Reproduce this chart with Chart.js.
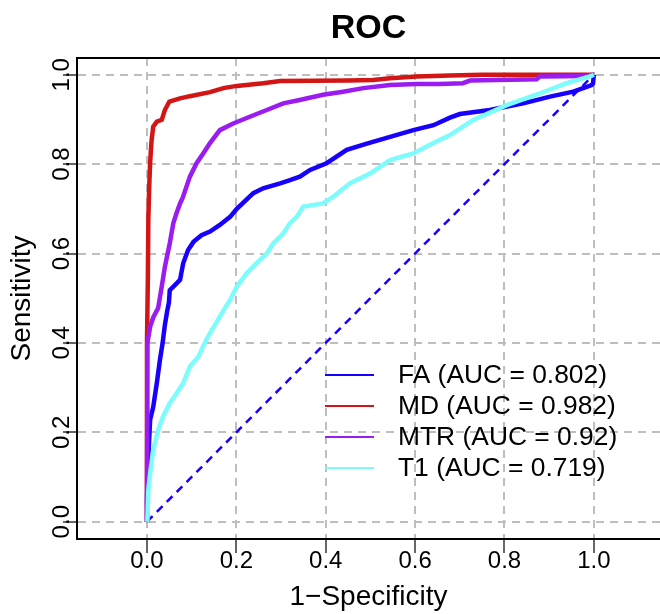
<!DOCTYPE html>
<html><head><meta charset="utf-8">
<script src="https://cdn.jsdelivr.net/npm/chart.js@4.4.0/dist/chart.umd.min.js"></script>
<style>html,body{margin:0;padding:0;background:#fff;} #wrap{width:660px;height:614px;}</style>
</head><body><div id="wrap"><canvas id="c" width="660" height="614"></canvas></div>
<script>
// ---- data ----
const categories = ['FA', 'MD', 'MTR', 'T1'];
const aucValues = ['0.802', '0.982', '0.92', '0.719'];

const faFpr = [0, 0, 0.003, 0.007, 0.014, 0.022, 0.029, 0.035, 0.040, 0.045, 0.049, 0.051, 0.063, 0.074, 0.081, 0.092, 0.104, 0.122, 0.141, 0.163, 0.186, 0.201, 0.238, 0.260, 0.298, 0.320, 0.342, 0.365, 0.402, 0.447, 0.492, 0.544, 0.596, 0.641, 0.678, 0.700, 0.767, 0.842, 0.902, 0.954, 0.984, 0.995, 0.998, 1];
const faTpr = [0, 0.049, 0.145, 0.228, 0.257, 0.310, 0.362, 0.400, 0.440, 0.470, 0.490, 0.518, 0.530, 0.541, 0.578, 0.608, 0.626, 0.641, 0.649, 0.664, 0.682, 0.700, 0.735, 0.746, 0.757, 0.764, 0.772, 0.787, 0.802, 0.832, 0.846, 0.861, 0.876, 0.887, 0.904, 0.912, 0.921, 0.936, 0.951, 0.962, 0.973, 0.977, 0.980, 1];

const mdFpr = [0, 0, 0.002, 0.003, 0.005, 0.007, 0.010, 0.014, 0.022, 0.033, 0.040, 0.050, 0.074, 0.096, 0.141, 0.171, 0.201, 0.260, 0.298, 0.450, 0.506, 0.544, 0.603, 0.678, 0.750, 1];
const mdTpr = [0, 0.400, 0.550, 0.675, 0.750, 0.803, 0.850, 0.884, 0.895, 0.899, 0.921, 0.940, 0.947, 0.952, 0.961, 0.970, 0.975, 0.981, 0.986, 0.987, 0.988, 0.992, 0.996, 0.998, 1.0, 1];

const mtrFpr = [0, 0, 0.001, 0.007, 0.014, 0.025, 0.028, 0.033, 0.040, 0.051, 0.059, 0.066, 0.074, 0.080, 0.096, 0.111, 0.126, 0.141, 0.163, 0.193, 0.230, 0.268, 0.305, 0.339, 0.394, 0.439, 0.484, 0.544, 0.603, 0.655, 0.707, 0.723, 0.872, 0.879, 0.984, 1];
const mtrTpr = [0, 0.060, 0.400, 0.436, 0.457, 0.478, 0.496, 0.526, 0.570, 0.623, 0.668, 0.690, 0.712, 0.725, 0.772, 0.802, 0.824, 0.847, 0.876, 0.891, 0.906, 0.921, 0.936, 0.943, 0.955, 0.962, 0.970, 0.977, 0.979, 0.979, 0.981, 0.987, 0.990, 0.996, 0.997, 1];

const t1Fpr = [0, 0.001, 0.003, 0.007, 0.014, 0.025, 0.036, 0.051, 0.066, 0.081, 0.096, 0.115, 0.134, 0.163, 0.186, 0.201, 0.223, 0.245, 0.268, 0.283, 0.305, 0.320, 0.335, 0.350, 0.394, 0.417, 0.454, 0.499, 0.544, 0.596, 0.641, 0.678, 0.730, 0.805, 0.879, 0.939, 0.991, 1];
const t1Tpr = [0, 0.004, 0.071, 0.108, 0.160, 0.205, 0.235, 0.265, 0.287, 0.310, 0.347, 0.369, 0.410, 0.459, 0.496, 0.526, 0.556, 0.578, 0.600, 0.623, 0.645, 0.668, 0.682, 0.705, 0.712, 0.727, 0.757, 0.779, 0.809, 0.824, 0.847, 0.865, 0.899, 0.932, 0.958, 0.981, 0.996, 1];

const diagX = [0, 1];
const diagY = [0, 1];

const xTickValues = [0, 0.2, 0.4, 0.6, 0.8, 1.0];
const xTickLabels = ['0.0', '0.2', '0.4', '0.6', '0.8', '1.0'];
const yTickValues = [0, 0.2, 0.4, 0.6, 0.8, 1.0];
const yTickLabels = ['0.0', '0.2', '0.4', '0.6', '0.8', '1.0'];

// ---- styles ----
const FONT = "'Liberation Sans', Arial, Helvetica, sans-serif";
const seriesColors = ['#1800FF', '#D41515', '#9A1CF0', '#7CFCFC'];
const XMIN = -0.1566, XMAX = 1.148, YMIN = -0.0387, YMAX = 1.0374;

const pts = (xs, ys) => xs.map((x, i) => ({ x: x, y: ys[i] }));
const fprs = [faFpr, mdFpr, mtrFpr, t1Fpr];
const tprs = [faTpr, mdTpr, mtrTpr, t1Tpr];
const orders = [4, 3, 2, 1];

const datasets = categories.map((c, i) => ({
  label: c + ' (AUC = ' + aucValues[i] + ')',
  data: pts(fprs[i], tprs[i]),
  borderColor: seriesColors[i],
  backgroundColor: seriesColors[i],
  borderWidth: 4.5,
  showLine: true,
  pointRadius: 0,
  tension: 0,
  order: orders[i]
}));
datasets.push({
  label: 'diag',
  data: pts(diagX, diagY),
  borderColor: '#1800FF',
  borderWidth: 2.5,
  borderDash: [8, 6],
  showLine: true,
  pointRadius: 0,
  order: 6
});

const legendPlugin = {
  id: 'rocLegend',
  afterDatasetsDraw(chart) {
    const ctx = chart.ctx;
    ctx.save();
    ctx.font = '26.4px ' + FONT;
    ctx.textBaseline = 'middle';
    ctx.textAlign = 'left';
    const rowY = [375, 406, 437, 468];
    for (let i = 0; i < categories.length; i++) {
      const ds = chart.data.datasets[i];
      ctx.strokeStyle = ds.borderColor;
      ctx.lineWidth = 2;
      ctx.beginPath();
      ctx.moveTo(325, rowY[i]);
      ctx.lineTo(374, rowY[i]);
      ctx.stroke();
      ctx.fillStyle = '#000';
      ctx.fillText(ds.label, 398, rowY[i] + 1);
    }
    ctx.restore();
  }
};

new Chart(document.getElementById('c'), {
  type: 'scatter',
  data: { datasets: datasets },
  options: {
    responsive: false,
    animation: false,
    devicePixelRatio: 1,
    layout: { padding: 0 },
    plugins: {
      legend: { display: false },
      tooltip: { enabled: false },
      title: {
        display: true,
        text: 'ROC',
        fullSize: false,
        color: '#000',
        font: { family: FONT, size: 34, weight: 'bold', lineHeight: 1.2 },
        padding: { top: 8.6, bottom: 8.6 }
      }
    },
    scales: {
      x: {
        type: 'linear',
        position: 'bottom',
        min: XMIN, max: XMAX,
        afterBuildTicks: s => { s.ticks = xTickValues.map(v => ({ value: v })); },
        afterFit: s => { s.height = 75; },
        ticks: {
          autoSkip: false,
          maxRotation: 0, minRotation: 0,
          padding: -6.4,
          color: '#000',
          font: { family: FONT, size: 24, lineHeight: 1.2 },
          callback: v => xTickLabels[xTickValues.indexOf(v)] ?? ''
        },
        grid: {
          color: '#BEBEBE',
          lineWidth: 2,
          tickLength: 14,
          tickColor: '#000',
          tickWidth: 1.2
        },
        border: { display: true, color: '#000', width: 2, dash: [8, 6] },
        title: {
          display: true,
          text: '1\u2212Specificity',
          color: '#000',
          font: { family: FONT, size: 28, lineHeight: 1.2 },
          padding: { top: 0, bottom: 0 }
        }
      },
      x2: {
        type: 'linear',
        axis: 'x',
        position: 'top',
        min: XMIN, max: XMAX,
        afterFit: s => { s.height = 0; },
        ticks: { display: false },
        grid: { display: false, drawTicks: false },
        border: { display: true, color: '#000', width: 2 }
      },
      y: {
        type: 'linear',
        position: 'left',
        min: YMIN, max: YMAX,
        afterBuildTicks: s => { s.ticks = yTickValues.map(v => ({ value: v })); },
        afterFit: s => { s.width = 77; },
        ticks: {
          autoSkip: false,
          minRotation: 90, maxRotation: 90,
          crossAlign: 'center',
          padding: -16.2,
          color: '#000',
          font: { family: FONT, size: 24, lineHeight: 1.2 },
          callback: v => yTickLabels[yTickValues.indexOf(v)] ?? ''
        },
        grid: {
          color: '#BEBEBE',
          lineWidth: 2,
          tickLength: 14,
          tickColor: '#000',
          tickWidth: 1.2
        },
        border: { display: true, color: '#000', width: 2, dash: [8, 6] },
        title: {
          display: true,
          text: 'Sensitivity',
          color: '#000',
          font: { family: FONT, size: 28, lineHeight: 1.2 },
          padding: { top: 5, bottom: 0 }
        }
      }
    }
  },
  plugins: [legendPlugin]
});
</script></body></html>
